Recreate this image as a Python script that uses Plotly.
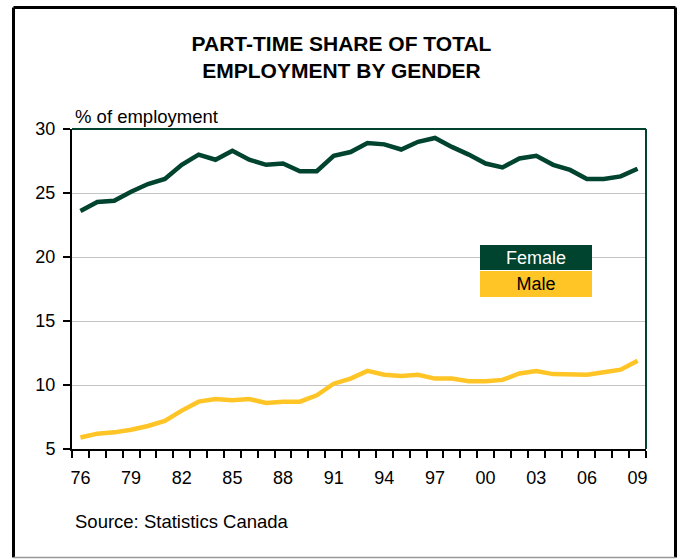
import plotly.graph_objects as go

# Part-time share of total employment, by gender (%), 1976-2009
years = list(range(1976, 2010))
female = [23.6, 24.3, 24.4, 25.1, 25.7, 26.1, 27.2, 28.0, 27.6, 28.3,
          27.6, 27.2, 27.3, 26.7, 26.7, 27.9, 28.2, 28.9, 28.8, 28.4,
          29.0, 29.3, 28.6, 28.0, 27.3, 27.0, 27.7, 27.9, 27.2, 26.8,
          26.1, 26.1, 26.3, 26.9]
male = [5.9, 6.2, 6.3, 6.5, 6.8, 7.2, 8.0, 8.7, 8.9, 8.8,
        8.9, 8.6, 8.7, 8.7, 9.2, 10.1, 10.5, 11.1, 10.8, 10.7,
        10.8, 10.5, 10.5, 10.3, 10.3, 10.4, 10.9, 11.1, 10.85, 10.8,
        10.8, 11.0, 11.2, 11.9]

label_years = list(range(1976, 2010, 3))
label_text = [f"{y % 100:02d}" for y in label_years]
boundaries = [y - 0.5 for y in years] + [years[-1] + 0.5]

GREEN = "#00432e"
YELLOW = "#ffc526"
FONT = "Liberation Sans, Arial, sans-serif"

fig = go.Figure()
fig.add_trace(go.Scatter(x=years, y=female, mode="lines", name="Female",
                         line=dict(color=GREEN, width=4.5)))
fig.add_trace(go.Scatter(x=years, y=male, mode="lines", name="Male",
                         line=dict(color=YELLOW, width=4.5)))

fig.update_layout(
    width=683, height=559,
    margin=dict(l=72, r=37, t=129, b=110),
    paper_bgcolor="white", plot_bgcolor="white",
    showlegend=False,
    font=dict(family=FONT, size=18, color="black"),
    title=dict(text="<b>PART-TIME SHARE OF TOTAL<br>EMPLOYMENT BY GENDER</b>",
               x=0.5, xref="container", xanchor="center",
               y=1 - 51 / 559, yref="container", yanchor="middle",
               font=dict(family=FONT, size=21, color="black")),
    xaxis=dict(range=[1975.5, 2009.5], tickmode="array",
               tickvals=label_years, ticktext=label_text, ticks="",
               showgrid=False, zeroline=False,
               showline=True, linecolor="black", linewidth=2,
               ticklabelstandoff=11,
               minor=dict(tickmode="array", tickvals=boundaries,
                          ticks="outside", ticklen=7, tickwidth=2,
                          tickcolor="black", showgrid=False)),
    yaxis=dict(range=[5, 30], tickmode="linear", tick0=5, dtick=5,
               ticks="outside", ticklen=7, tickwidth=2, tickcolor="black",
               showgrid=True, gridcolor="#c4c4c4", gridwidth=1,
               zeroline=False, showline=True, linecolor="black", linewidth=2,
               ticklabelstandoff=4),
)

# green frame on the top and right edges of the plot area
fig.add_shape(type="line", xref="x domain", yref="y domain",
              x0=0, x1=1, y0=1, y1=1, line=dict(color=GREEN, width=2))
fig.add_shape(type="line", xref="x domain", yref="y domain",
              x0=1, x1=1, y0=0, y1=1, line=dict(color=GREEN, width=2))

# outer border around the whole graphic
L, R, T, B = (13.5 - 72) / 574, (675.5 - 72) / 574, (449 - 7.5) / 320, (449 - 557.5) / 320
for x0, y0, x1, y1 in [(L, B, L, T), (L, T, R, T), (R, T, R, B)]:
    fig.add_shape(type="line", xref="paper", yref="paper",
                  x0=x0, y0=y0, x1=x1, y1=y1, line=dict(color="black", width=3))
fig.add_shape(type="line", xref="paper", yref="paper",
              x0=L, y0=B, x1=R, y1=B, line=dict(color="#999999", width=1.5))

# axis caption
fig.add_annotation(text="% of employment", xref="paper", yref="paper",
                   x=(73 - 72) / 574, y=(449 - 116) / 320,
                   xanchor="left", yanchor="middle", showarrow=False,
                   font=dict(size=18.5))

# legend boxes
cx = (536 - 72) / 574
fig.add_annotation(text="Female", xref="paper", yref="paper",
                   x=cx, y=(449 - 257.5) / 320, xanchor="center", yanchor="middle",
                   width=112, height=25, bgcolor=GREEN, borderpad=0, borderwidth=0,
                   showarrow=False, font=dict(size=18, color="white"))
fig.add_annotation(text="Male", xref="paper", yref="paper",
                   x=cx, y=(449 - 283.5) / 320, xanchor="center", yanchor="middle",
                   width=112, height=26, bgcolor=YELLOW, borderpad=0, borderwidth=0,
                   showarrow=False, font=dict(size=18, color="black"))

# source note
fig.add_annotation(text="Source: Statistics Canada", xref="paper", yref="paper",
                   x=(73 - 72) / 574, y=(449 - 521) / 320,
                   xanchor="left", yanchor="middle", showarrow=False,
                   font=dict(size=18.5))

fig.write_html("out.html")
